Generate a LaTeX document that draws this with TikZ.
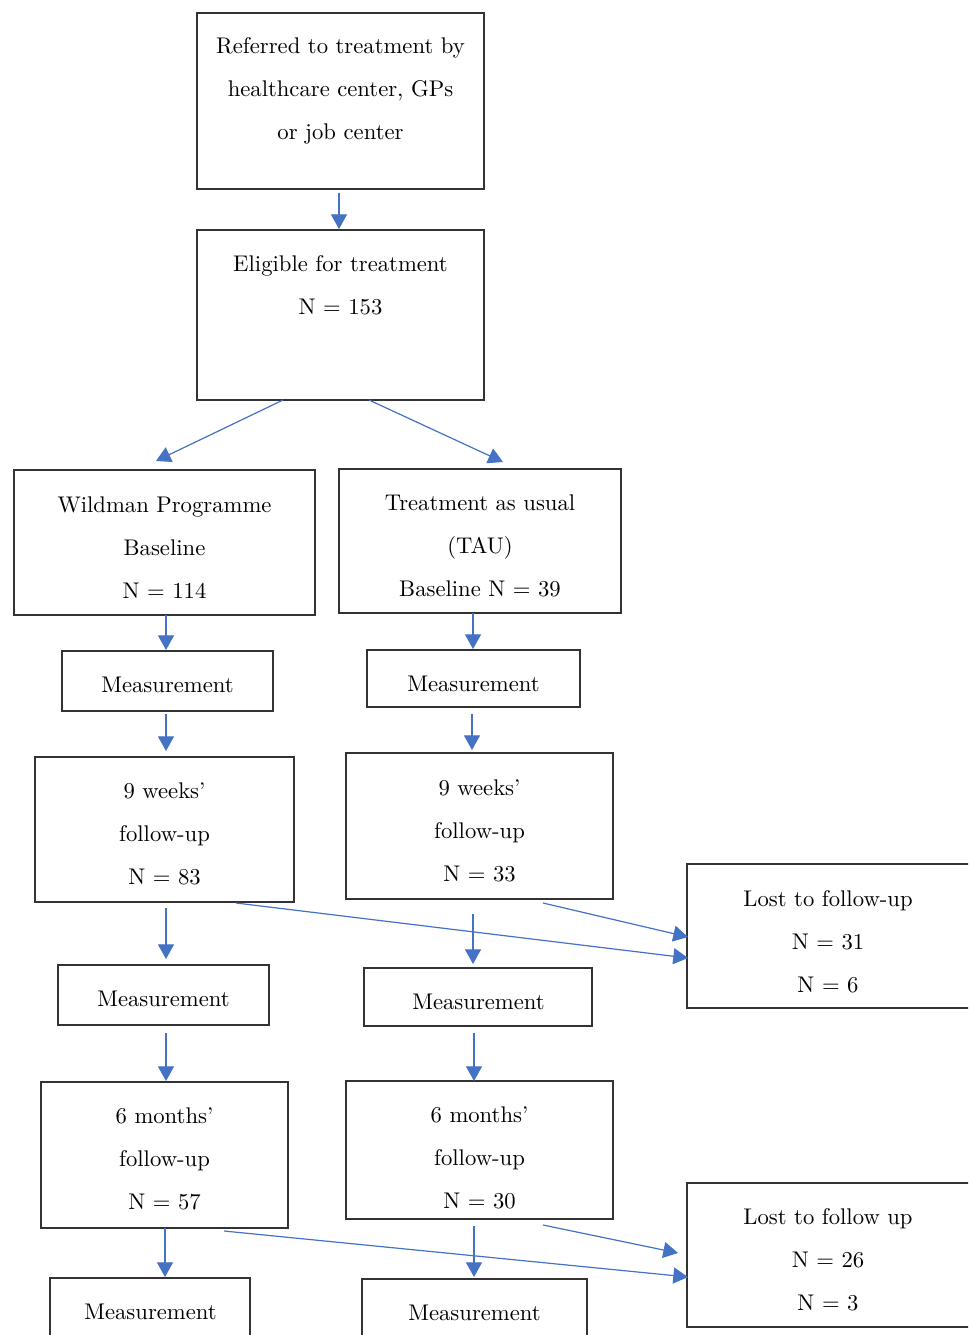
\documentclass[tikz,border=0pt]{standalone}
\usepackage{fontspec}
\setmainfont{lmroman10-regular.otf}
\usetikzlibrary{arrows.meta,fit}
\definecolor{arrowblue}{HTML}{4472C4}
\definecolor{boxline}{HTML}{333333}
\begin{document}
\begin{tikzpicture}[x=0.75pt,y=-0.75pt,
  box/.style={draw=boxline,line width=0.9pt,inner sep=0pt,rectangle},
  txt/.style={align=center,inner sep=0pt,font=\fontsize{17}{32.25}\selectfont},
  arr/.style={draw=arrowblue,line width=0.9pt,-{Triangle[length=11pt,width=12pt]}}]
\useasboundingbox (0,0) rectangle (968,1335);
\clip (0,0) rectangle (968,1335);
\fill[white] (0,0) rectangle (968,1335);
% boxes
\node[box,fit={(197,13)(484,189)}] (ref) {};
\node[box,fit={(197,230)(484,400)}] (elig) {};
\node[box,fit={(14,470)(315,615)}] (wild) {};
\node[box,fit={(339,469)(621,613)}] (tau) {};
\node[box,fit={(62,651)(273,711)}] (ml1) {};
\node[box,fit={(367,650)(580,707)}] (mr1) {};
\node[box,fit={(35,757)(294,902)}] (wl9) {};
\node[box,fit={(346,753)(613,899)}] (wr9) {};
\node[box,fit={(687,864)(1000,1008)}] (lost1) {};
\node[box,fit={(58,965)(269,1025)}] (ml2) {};
\node[box,fit={(364,968)(592,1026)}] (mr2) {};
\node[box,fit={(41,1082)(288,1228)}] (wl6) {};
\node[box,fit={(346,1081)(613,1219)}] (wr6) {};
\node[box,fit={(687,1183)(1000,1327)}] (lost2) {};
\node[box,fit={(50,1278)(250,1360)}] (ml3) {};
\node[box,fit={(362,1279)(587,1360)}] (mr3) {};
% texts
\node[txt] (tref) at (340.5,90.5) {Referred to treatment by\\healthcare center, GPs\\or job center};
\node[txt] (telig) at (340.5,285.5) {Eligible for treatment\\N = 153};
\node[txt] (twild) at (164.5,547.5) {Wildman Programme\\Baseline\\N = 114};
\node[txt] (ttau) at (480,545.5) {Treatment as usual\\(TAU)\\Baseline N = 39};
\node[txt] (tml1) at (167.5,685) {Measurement};
\node[txt] (tmr1) at (473.5,684) {Measurement};
\node[txt] (twl9) at (164.5,834) {9 weeks'\\follow-up\\N = 83};
\node[txt] (twr9) at (479.5,831) {9 weeks'\\follow-up\\N = 33};
\node[txt] (tlost1) at (828,941.5) {Lost to follow-up\\N = 31\\N = 6};
\node[txt] (tml2) at (163.5,999) {Measurement};
\node[txt] (tmr2) at (478.5,1002) {Measurement};
\node[txt] (twl6) at (164.5,1159) {6 months'\\follow-up\\N = 57};
\node[txt] (twr6) at (479.5,1158) {6 months'\\follow-up\\N = 30};
\node[txt] (tlost2) at (828,1259.5) {Lost to follow up\\N = 26\\N = 3};
\node[txt] (tml3) at (150.5,1312) {Measurement};
\node[txt] (tmr3) at (474.5,1313) {Measurement};
% arrow coordinates
\coordinate (a1s) at (339,193); \coordinate (a1e) at (339,229);
\coordinate (a2s) at (283,400); \coordinate (a2e) at (156,461);
\coordinate (a3s) at (369,400); \coordinate (a3e) at (503,462);
\coordinate (a4s) at (166,615); \coordinate (a4e) at (166,650);
\coordinate (a5s) at (473,613); \coordinate (a5e) at (473,649);
\coordinate (a6s) at (166,714); \coordinate (a6e) at (166,751);
\coordinate (a7s) at (472,714); \coordinate (a7e) at (472,750);
\coordinate (a8s) at (236,903); \coordinate (a8e) at (688,958);
\coordinate (a9s) at (543,903); \coordinate (a9e) at (688,937);
\coordinate (a10s) at (166,908); \coordinate (a10e) at (166,959);
\coordinate (a11s) at (473,914); \coordinate (a11e) at (473,964);
\coordinate (a12s) at (166,1033); \coordinate (a12e) at (166,1081);
\coordinate (a13s) at (474,1033); \coordinate (a13e) at (474,1081);
\coordinate (a14s) at (224,1231); \coordinate (a14e) at (688,1277);
\coordinate (a15s) at (543,1225); \coordinate (a15e) at (678,1253);
\coordinate (a16s) at (165,1228); \coordinate (a16e) at (165,1277);
\coordinate (a17s) at (474,1226); \coordinate (a17e) at (474,1277);
\foreach \i in {1,...,17} {\draw[arr] (a\i s) -- (a\i e);}
\end{tikzpicture}
\end{document}
